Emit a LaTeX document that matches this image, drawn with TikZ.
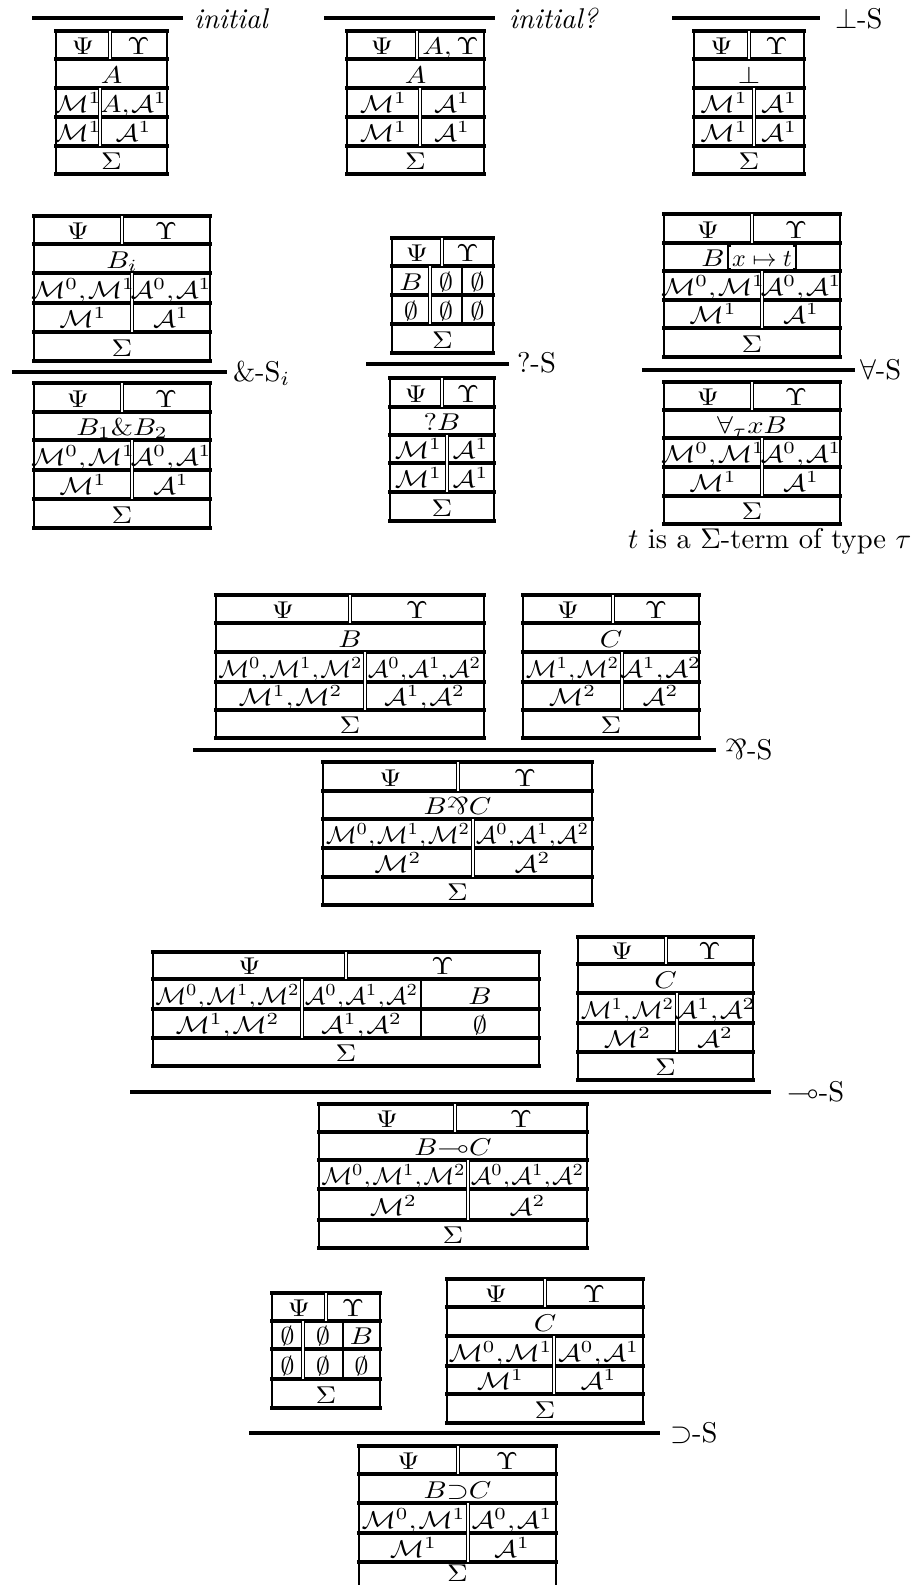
\documentclass[tikz,border=0pt]{standalone}
\usepackage{amssymb}
\usepackage{graphicx}
\newcounter{cellno}
\tikzset{
  hl/.style={line width=1.25pt, line cap=rect},
  vl/.style={line width=0.75pt},
  dv/.style={double, line width=0.45pt, double distance=0.55pt},
  tv/.style={line width=0.45pt},
  infrule/.style={line width=1.25pt},
  celltext/.style={anchor=base, inner sep=0pt, outer sep=0pt},
  rlabel/.style={anchor=base west, inner sep=0pt, outer sep=0pt},
}
\newcommand\cM{\mathcal{M}}
\newcommand\cA{\mathcal{A}}
\newcommand\cm{{,}\mkern1mu}
\newcommand\parrsym{\mathord{\rotatebox[origin=c]{180}{$\&$}}}
% L, R, top, bottom, inner ys
\newcommand\TabFrame[5]{%
  \draw[vl] (#1,#3) -- (#1,#4) (#2,#3) -- (#2,#4);
  \foreach \yy in {#3,#5,#4} {\draw[hl] (#1,\yy) -- (#2,\yy);}
}
\newcommand\Cell[3]{\stepcounter{cellno}\edef\cellname{c\arabic{cellno}}%
  \node[celltext] (\cellname) at (#1,#2) {\scalebox{1}[0.85]{$#3$}};}
\newcommand\CellN[3]{\stepcounter{cellno}\edef\cellname{c\arabic{cellno}}%
  \node[celltext] (\cellname) at (#1,#2) {\scalebox{0.9}[0.85]{$#3$}};}
\newcommand\Dv[3]{\draw[dv] (#1,#2) -- (#1,#3);}
\newcommand\Tv[3]{\draw[tv] (#1,#2) -- (#1,#3);}
\begin{document}
\begin{tikzpicture}[x=0.35pt, y=-0.35pt]
\useasboundingbox (0,0) rectangle (911,1585);

% ---------- initial ----------
\draw[infrule] (32,18) -- (183,18);
\node[rlabel] (l1) at (194,28) {\textit{initial}};
\TabFrame{56}{167}{31}{174}{59,88,117,146}
\Dv{110}{31}{59} \Dv{100}{88}{146}
\Cell{83}{54}{\Psi} \Cell{138.5}{54}{\Upsilon}
\Cell{111.5}{83}{A}
\Cell{78}{112}{\cM^1} \Cell{133.5}{112}{A\cm\cA^1}
\Cell{78}{141}{\cM^1} \Cell{133.5}{141}{\cA^1}
\Cell{111.5}{169}{\Sigma}

% ---------- initial? ----------
\draw[infrule] (324,18) -- (495,18);
\node[rlabel] (l2) at (509,28) {\textit{initial?}};
\TabFrame{347}{484}{31}{174}{59,88,117,146}
\Dv{417}{31}{59} \Dv{420}{88}{146}
\Cell{382}{54}{\Psi} \Cell{450.5}{54}{A,\Upsilon}
\Cell{415.5}{83}{A}
\Cell{383.5}{112}{\cM^1} \Cell{452}{112}{\cA^1}
\Cell{383.5}{141}{\cM^1} \Cell{452}{141}{\cA^1}
\Cell{415.5}{169}{\Sigma}

% ---------- bot-S ----------
\draw[infrule] (672,18) -- (820,18);
\node[rlabel] (l3) at (835,28) {$\bot$-S};
\TabFrame{694}{804}{31}{174}{59,88,117,146}
\Dv{749}{31}{59} \Dv{754}{88}{146}
\Cell{721.5}{54}{\Psi} \Cell{776.5}{54}{\Upsilon}
\Cell{749}{83}{\bot}
\Cell{724}{112}{\cM^1} \Cell{779}{112}{\cA^1}
\Cell{724}{141}{\cM^1} \Cell{779}{141}{\cA^1}
\Cell{749}{169}{\Sigma}

% ---------- &-S_i ----------
\TabFrame{34}{210}{216}{361}{244,273,303,332}
\Dv{122}{216}{244} \Dv{132}{273}{332}
\Cell{78}{239}{\Psi} \Cell{166}{239}{\Upsilon}
\Cell{122}{268}{B_i}
\Cell{83}{298}{\cM^0\cm\cM^1} \Cell{171}{298}{\cA^0\cm\cA^1}
\Cell{83}{327}{\cM^1} \Cell{171}{327}{\cA^1}
\Cell{122}{356}{\Sigma}
\draw[infrule] (12,372) -- (227,372);
\node[rlabel] (l4) at (233,381) {\&-S$_i$};
\TabFrame{34}{210}{383}{528}{412,440,470,499}
\Dv{122}{383}{412} \Dv{132}{440}{499}
\Cell{78}{407}{\Psi} \Cell{166}{407}{\Upsilon}
\Cell{122}{435}{B_1\&B_2}
\Cell{83}{465}{\cM^0\cm\cM^1} \Cell{171}{465}{\cA^0\cm\cA^1}
\Cell{83}{494}{\cM^1} \Cell{171}{494}{\cA^1}
\Cell{122}{523}{\Sigma}

% ---------- ?-S ----------
\TabFrame{392}{493}{238}{353}{266,295,324}
\Dv{442}{238}{266} \Dv{430}{266}{324} \Tv{462}{266}{324}
\Cell{417}{261}{\Psi} \Cell{467.5}{261}{\Upsilon}
\Cell{411}{290}{B} \Cell{446}{290}{\emptyset} \Cell{477.5}{290}{\emptyset}
\Cell{411}{319}{\emptyset} \Cell{446}{319}{\emptyset} \Cell{477.5}{319}{\emptyset}
\Cell{442.5}{348}{\Sigma}
\draw[infrule] (366,364) -- (509,364);
\node[rlabel] (l5) at (517,372) {?-S};
\TabFrame{390}{494}{378}{521}{407,435,463,492}
\Dv{442}{378}{407} \Dv{447}{435}{492}
\Cell{416}{402}{\Psi} \Cell{468}{402}{\Upsilon}
\Cell{442}{430}{?B}
\Cell{418.5}{458}{\cM^1} \Cell{470.5}{458}{\cA^1}
\Cell{418.5}{487}{\cM^1} \Cell{470.5}{487}{\cA^1}
\Cell{442}{516}{\Sigma}

% ---------- forall-S ----------
\TabFrame{664}{840}{214}{357}{243,271,300,328}
\Dv{752}{214}{243} \Dv{762}{271}{328}
\Cell{708}{238}{\Psi} \Cell{796}{238}{\Upsilon}
\stepcounter{cellno}
\node[anchor=base east, inner sep=0pt] (fB) at (725,266) {\scalebox{1}[0.85]{$B$}};
\stepcounter{cellno}
\node[celltext] (fsub) at (762,266) {\scalebox{0.84}[0.85]{$x\mapsto t$}};
\draw[tv] (731,246) -- (728,246) -- (728,269) -- (731,269);
\draw[tv] (793,246) -- (796,246) -- (796,269) -- (793,269);
\Cell{713}{295}{\cM^0\cm\cM^1} \Cell{801}{295}{\cA^0\cm\cA^1}
\Cell{713}{323}{\cM^1} \Cell{801}{323}{\cA^1}
\Cell{752}{352}{\Sigma}
\draw[infrule] (642,370) -- (855,370);
\node[rlabel] (l6) at (860,379) {$\forall$-S};
\TabFrame{664}{840}{382}{524}{410,438,467,496}
\Dv{752}{382}{410} \Dv{762}{438}{496}
\Cell{708}{405}{\Psi} \Cell{796}{405}{\Upsilon}
\Cell{752}{433}{\forall_\tau xB}
\Cell{713}{462}{\cM^0\cm\cM^1} \Cell{801}{462}{\cA^0\cm\cA^1}
\Cell{713}{491}{\cM^1} \Cell{801}{491}{\cA^1}
\Cell{752}{519}{\Sigma}
\node[rlabel] (cap) at (628,548) {$t$ is a $\Sigma$-term of type $\tau$};

% ---------- parr-S ----------
\TabFrame{216}{484}{595}{738}{623,652,682,710}
\Dv{350}{595}{623} \Dv{365}{652}{710}
\Cell{283}{618}{\Psi} \Cell{417}{618}{\Upsilon}
\Cell{350}{647}{B}
\CellN{290.5}{677}{\cM^0\cm\cM^1\cm\cM^2} \CellN{424.5}{677}{\cA^0\cm\cA^1\cm\cA^2}
\Cell{290.5}{705}{\cM^1\cm\cM^2} \Cell{424.5}{705}{\cA^1\cm\cA^2}
\Cell{350}{733}{\Sigma}
\TabFrame{523}{699}{595}{738}{623,652,682,710}
\Dv{613}{595}{623} \Dv{622}{652}{710}
\Cell{568}{618}{\Psi} \Cell{656}{618}{\Upsilon}
\Cell{611}{647}{C}
\CellN{572.5}{677}{\cM^1\cm\cM^2} \Cell{660.5}{677}{\cA^1\cm\cA^2}
\Cell{572.5}{705}{\cM^2} \Cell{660.5}{705}{\cA^2}
\Cell{611}{733}{\Sigma}
\draw[infrule] (193,750) -- (716,750);
\node[rlabel] (l7) at (725,759) {$\parrsym$-S};
\TabFrame{323}{592}{762}{905}{791,819,848,877}
\Dv{458}{762}{791} \Dv{473}{819}{877}
\Cell{390.5}{786}{\Psi} \Cell{525}{786}{\Upsilon}
\Cell{457.5}{814}{B\parrsym C}
\CellN{398}{843}{\cM^0\cm\cM^1\cm\cM^2} \CellN{532.5}{843}{\cA^0\cm\cA^1\cm\cA^2}
\Cell{398}{872}{\cM^2} \Cell{532.5}{872}{\cA^2}
\Cell{457.5}{900}{\Sigma}

% ---------- multimap-S ----------
\TabFrame{153}{539}{952}{1066}{979,1009,1038}
\Dv{346}{952}{979} \Dv{302}{979}{1038} \Tv{421}{979}{1038}
\Cell{249.5}{974}{\Psi} \Cell{442.5}{974}{\Upsilon}
\CellN{227.5}{1004}{\cM^0\cm\cM^1\cm\cM^2} \CellN{361.5}{1004}{\cA^0\cm\cA^1\cm\cA^2} \Cell{480}{1004}{B}
\Cell{227.5}{1033}{\cM^1\cm\cM^2} \Cell{361.5}{1033}{\cA^1\cm\cA^2} \Cell{480}{1033}{\emptyset}
\Cell{346}{1061}{\Sigma}
\TabFrame{578}{753}{937}{1080}{964,993,1023,1052}
\Dv{666}{937}{964} \Dv{677}{993}{1052}
\Cell{622}{959}{\Psi} \Cell{709.5}{959}{\Upsilon}
\Cell{665.5}{988}{C}
\CellN{627.5}{1018}{\cM^1\cm\cM^2} \Cell{715}{1018}{\cA^1\cm\cA^2}
\Cell{627.5}{1047}{\cM^2} \Cell{715}{1047}{\cA^2}
\Cell{665.5}{1075}{\Sigma}
\draw[infrule] (130,1092) -- (771,1092);
\node[rlabel] (l8) at (787,1101) {$\multimap$-S};
\TabFrame{319}{587}{1104}{1248}{1132,1160,1189,1220}
\Dv{455}{1104}{1132} \Dv{468}{1160}{1220}
\Cell{387}{1127}{\Psi} \Cell{521}{1127}{\Upsilon}
\Cell{453}{1155}{B{\multimap}C}
\CellN{393.5}{1184}{\cM^0\cm\cM^1\cm\cM^2} \CellN{527.5}{1184}{\cA^0\cm\cA^1\cm\cA^2}
\Cell{393.5}{1215}{\cM^2} \Cell{527.5}{1215}{\cA^2}
\Cell{453}{1243}{\Sigma}

% ---------- supset-S ----------
\TabFrame{272}{380}{1293}{1408}{1321,1349,1379}
\Dv{326}{1293}{1321} \Dv{303}{1321}{1379} \Tv{343}{1321}{1379}
\Cell{299}{1316}{\Psi} \Cell{353}{1316}{\Upsilon}
\Cell{287.5}{1344}{\emptyset} \Cell{323}{1344}{\emptyset} \Cell{361.5}{1344}{B}
\Cell{287.5}{1374}{\emptyset} \Cell{323}{1374}{\emptyset} \Cell{361.5}{1374}{\emptyset}
\Cell{326}{1403}{\Sigma}
\TabFrame{447}{643}{1279}{1423}{1307,1336,1366,1394}
\Dv{545}{1279}{1307} \Dv{554}{1336}{1394}
\Cell{496}{1302}{\Psi} \Cell{594}{1302}{\Upsilon}
\Cell{545}{1331}{C}
\Cell{500.5}{1361}{\cM^0\cm\cM^1} \Cell{598.5}{1361}{\cA^0\cm\cA^1}
\Cell{500.5}{1389}{\cM^1} \Cell{598.5}{1389}{\cA^1}
\Cell{545}{1418}{\Sigma}
\draw[infrule] (249,1433) -- (660,1433);
\node[rlabel] (l9) at (670,1442) {$\supset$-S};
\TabFrame{359}{556}{1446}{1592}{1474,1503,1533,1562}
\Dv{458}{1446}{1474} \Dv{468}{1503}{1562}
\Cell{408.5}{1469}{\Psi} \Cell{507}{1469}{\Upsilon}
\Cell{457.5}{1498}{B{\supset}C}
\Cell{413.5}{1528}{\cM^0\cm\cM^1} \Cell{512}{1528}{\cA^0\cm\cA^1}
\Cell{413.5}{1557}{\cM^1} \Cell{512}{1557}{\cA^1}
\Cell{457.5}{1581}{\Sigma}
\end{tikzpicture}
\end{document}
